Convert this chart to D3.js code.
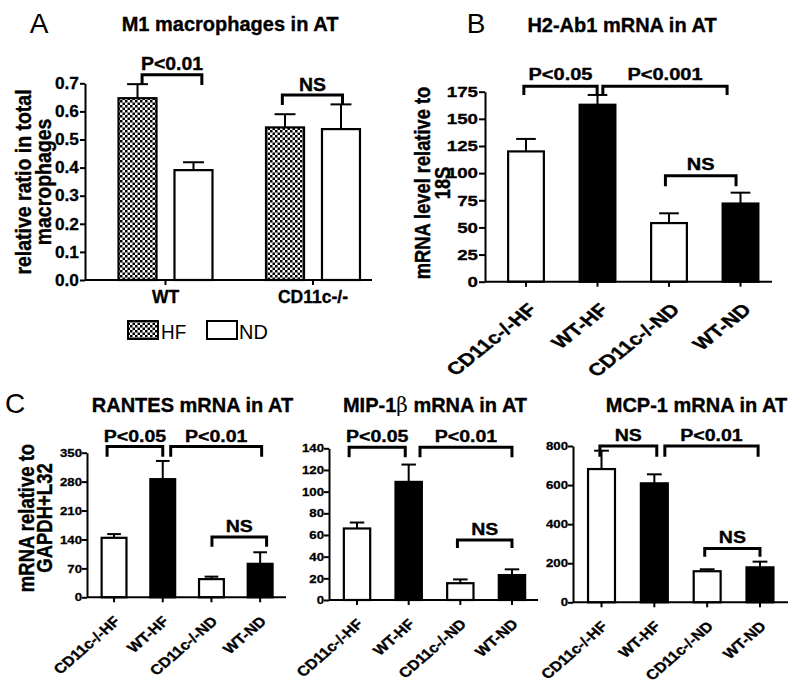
<!DOCTYPE html>
<html><head><meta charset="utf-8">
<script src="https://cdn.jsdelivr.net/npm/d3@7"></script>
<style>
body{margin:0;background:#fff;}
</style></head><body>
<svg id="chart" width="800" height="682" xmlns="http://www.w3.org/2000/svg"></svg>
<script>
// ---------------- DATA ----------------
// Panel A
const groupsA = ["WT", "CD11c-/-"];
const dietsA = ["HF", "ND"];
const m1HF = [0.647, 0.543];
const m1HFErr = [0.050, 0.047];
const m1ND = [0.391, 0.537];
const m1NDErr = [0.028, 0.088];
const ticksA = [0, 0.1, 0.2, 0.3, 0.4, 0.5, 0.6, 0.7];
// bar index: 0 WT-HF, 1 WT-ND, 2 CD11c-HF, 3 CD11c-ND ; offsets in bar widths
const bracketsA = [
  {label: "P<0.01", from: [0, 0.12], to: [1, 0.22], top: 0.730, drop: 0.694},
  {label: "NS", from: [2, -0.07], to: [3, 0.04], top: 0.658, drop: 0.623}
];

// Panels B, C
const categories = ["CD11c-/-HF", "WT-HF", "CD11c-/-ND", "WT-ND"];
const barFill = ["white", "black", "white", "black"];

const h2ab1 = [120, 163, 54, 72];
const h2ab1Err = [11.5, 9, 9, 10];
const ticksH2 = [0, 25, 50, 75, 100, 125, 150, 175];
const bracketsH2 = [
  {label: "P<0.05", from: [0, -0.06], to: [1, -0.01], top: 180, drop: 172},
  {label: "P<0.001", from: [1, 0.15], to: [3, -0.375], top: 180, drop: 172},
  {label: "NS", from: [2, -0.1], to: [3, -0.125], top: 97.5, drop: 88}
];

const rantes = [144, 286, 44, 81];
const rantesErr = [9, 44, 6, 28];
const ticksRantes = [0, 70, 140, 210, 280, 350];
const bracketsRantes = [
  {label: "P<0.05", from: [0, -0.28], to: [1, 0], top: 365, drop: 340},
  {label: "P<0.01", from: [1, 0.32], to: [3, 0.06], top: 365, drop: 340},
  {label: "NS", from: [2, 0.02], to: [3, 0.26], top: 146, drop: 122.5}
];

const mip1b = [66, 109, 15.5, 23];
const mip1bErr = [5.5, 16, 3.5, 5.3];
const ticksMip = [0, 20, 40, 60, 80, 100, 120, 140];
const bracketsMip = [
  {label: "P<0.05", from: [0, -0.3], to: [1, -0.13], top: 141, drop: 131.7},
  {label: "P<0.01", from: [1, 0.43], to: [3, 0], top: 141, drop: 131.7},
  {label: "NS", from: [2, -0.11], to: [3, 0], top: 55.4, drop: 48}
];

const mcp1 = [682, 609, 159, 179];
const mcp1Err = [94, 46, 10, 29];
const ticksMcp = [0, 200, 400, 600, 800];
const bracketsMcp = [
  {label: "NS", from: [0, -0.06], to: [1, 0.09], top: 800, drop: 745},
  {label: "P<0.01", from: [1, 0.39], to: [3, -0.07], top: 800, drop: 745},
  {label: "NS", from: [2, -0.09], to: [3, 0], top: 276, drop: 233}
];

// ---------------- DRAWING ----------------
const FONT = '"Liberation Sans", Arial, Helvetica, sans-serif';
const svg = d3.select("#chart");
svg.append("rect").attr("width", 800).attr("height", 682).attr("fill", "white");

const defs = svg.append("defs");
const pat = defs.append("pattern").attr("id", "checker").attr("patternUnits", "userSpaceOnUse")
  .attr("width", 5).attr("height", 5);
pat.append("rect").attr("width", 5).attr("height", 5).attr("fill", "white");
pat.append("rect").attr("width", 2.5).attr("height", 2.5).attr("fill", "black");
pat.append("rect").attr("x", 2.5).attr("y", 2.5).attr("width", 2.5).attr("height", 2.5).attr("fill", "black");

function stext(g, x, y, str, o) {
  const sx = o.sx || 1, rot = o.rot || 0;
  const w = o.weight || "bold";
  return g.append("text")
    .attr("transform", `translate(${x},${y}) scale(${sx},1)` + (rot ? ` rotate(${rot})` : ""))
    .attr("text-anchor", o.anchor || "middle")
    .attr("font-size", o.size)
    .attr("font-weight", w)
    .attr("font-family", FONT)
    .attr("fill", "black")
    .attr("stroke", w === "bold" ? "black" : "none")
    .attr("stroke-width", 0.35)
    .text(str);
}

function yAxis(g, x, y, ticks, fmt, size, sx, tickSize, pad) {
  const ax = d3.axisLeft(y).tickValues(ticks).tickFormat(fmt).tickSize(tickSize).tickSizeOuter(0).tickPadding(pad);
  const ga = g.append("g").attr("transform", `translate(${x},0)`).call(ax);
  ga.select(".domain").attr("stroke-width", 2).attr("stroke", "black");
  ga.selectAll(".tick line").attr("stroke-width", 2).attr("stroke", "black");
  ga.selectAll(".tick text")
    .attr("x", null)
    .attr("transform", `translate(${-(tickSize + pad)},0) scale(${sx},1)`)
    .attr("font-size", size).attr("font-weight", "bold").attr("font-family", FONT).attr("fill", "black")
    .attr("stroke", "black").attr("stroke-width", 0.3);
  return ga;
}

function drawBrackets(g, brackets, centerOf, bw, y, size, sx, gap) {
  brackets.forEach(b => {
    const x1 = centerOf(b.from[0]) + b.from[1] * bw;
    const x2 = centerOf(b.to[0]) + b.to[1] * bw;
    g.append("path")
      .attr("d", `M${x1},${y(b.drop)}V${y(b.top)}H${x2}V${y(b.drop)}`)
      .attr("fill", "none").attr("stroke", "black").attr("stroke-width", 3)
      .attr("stroke-linejoin", "miter");
    stext(g, (x1 + x2) / 2, y(b.top) - gap, b.label, {size: size, sx: sx});
  });
}

function errBars(g, bars, y, capW) {
  bars.forEach(d => {
    g.append("line").attr("x1", d.cx).attr("x2", d.cx).attr("y1", y(d.v)).attr("y2", y(d.v + d.e))
      .attr("stroke", "black").attr("stroke-width", 2);
    g.append("line").attr("x1", d.cx - capW / 2).attr("x2", d.cx + capW / 2).attr("y1", y(d.v + d.e)).attr("y2", y(d.v + d.e))
      .attr("stroke", "black").attr("stroke-width", 2);
  });
}

// ---------- Panel A ----------
{
  const g = svg.append("g");
  const y = d3.scaleLinear().domain([0, 0.7]).range([280, 83.3]);
  const x0 = d3.scaleBand().domain(groupsA).range([91.75, 386.75]).padding(0);
  const x1 = d3.scaleBand().domain(dietsA).range([0, x0.bandwidth()]).paddingInner(0.321).paddingOuter(0.478);
  const bw = x1.bandwidth();
  const bars = [];
  groupsA.forEach((gr, i) => {
    bars.push({g: gr, d: "HF", v: m1HF[i], e: m1HFErr[i]});
    bars.push({g: gr, d: "ND", v: m1ND[i], e: m1NDErr[i]});
  });
  bars.forEach(b => { b.x = x0(b.g) + x1(b.d); b.cx = b.x + bw / 2; });
  errBars(g, bars, y, bw * 0.55);
  g.selectAll("rect.bar").data(bars).join("rect").attr("class", "bar")
    .attr("x", d => d.x).attr("y", d => y(d.v)).attr("width", bw).attr("height", d => y(0) - y(d.v))
    .attr("fill", d => d.d === "HF" ? "url(#checker)" : "white")
    .attr("stroke", "black").attr("stroke-width", 2.2);
  yAxis(g, 85, y, ticksA, d3.format(".1f"), 16.5, 1.05, 5, 1);
  g.append("line").attr("x1", 85).attr("x2", 372).attr("y1", y(0)).attr("y2", y(0)).attr("stroke", "black").attr("stroke-width", 2);
  groupsA.forEach(gr => {
    const cx = x0(gr) + x0.bandwidth() / 2;
    g.append("line").attr("x1", cx).attr("x2", cx).attr("y1", y(0)).attr("y2", y(0) + 5).attr("stroke", "black").attr("stroke-width", 2);
    stext(g, cx, 302.5, gr, {size: 17.5});
  });
  drawBrackets(g, bracketsA, i => bars[i].cx, bw, y, 18.5, 1.05, 4.5);
  stext(g, 230, 31, "M1 macrophages in AT", {size: 20});
  stext(g, 39, 33, "A", {size: 28, weight: "normal"});
  stext(g, 31, 182, "relative ratio in total", {size: 19.5, rot: -90, sx: 1.15});
  stext(g, 51, 182, "macrophages", {size: 19.5, rot: -90, sx: 1.15});
  // legend
  g.append("rect").attr("x", 128).attr("y", 321).attr("width", 30).attr("height", 18)
    .attr("fill", "url(#checker)").attr("stroke", "black").attr("stroke-width", 2);
  stext(g, 161, 339, "HF", {size: 21, weight: "normal", anchor: "start", sx: 0.9});
  g.append("rect").attr("x", 207).attr("y", 321).attr("width", 30).attr("height", 18)
    .attr("fill", "white").attr("stroke", "black").attr("stroke-width", 2);
  stext(g, 239, 339, "ND", {size: 21, weight: "normal", anchor: "start", sx: 0.95});
}

// ---------- Generic panel for B & C ----------
function catPanel(o) {
  const g = svg.append("g");
  const y = d3.scaleLinear().domain([0, o.ticks[o.ticks.length - 1]]).range(o.yRange);
  const x = d3.scaleBand().domain(categories).range(o.bandRange).paddingInner(o.pad).paddingOuter(o.pad / 2);
  const bw = x.bandwidth();
  const bars = categories.map((c, i) => ({c, v: o.values[i], e: o.errs[i], fill: barFill[i], x: x(c), cx: x(c) + bw / 2}));
  errBars(g, bars, y, bw * 0.55);
  g.selectAll("rect.bar").data(bars).join("rect").attr("class", "bar")
    .attr("x", d => d.x).attr("y", d => y(d.v)).attr("width", bw).attr("height", d => y(0) - y(d.v))
    .attr("fill", d => d.fill).attr("stroke", "black").attr("stroke-width", 2.2);
  yAxis(g, o.axisX[0], y, o.ticks, d3.format("d"), o.tickSize, o.sx, o.tickLen, o.tickPad);
  g.append("line").attr("x1", o.axisX[0]).attr("x2", o.axisX[1]).attr("y1", y(0)).attr("y2", y(0)).attr("stroke", "black").attr("stroke-width", 2);
  bars.forEach(b => {
    g.append("line").attr("x1", b.cx).attr("x2", b.cx).attr("y1", y(0)).attr("y2", y(0) + 5).attr("stroke", "black").attr("stroke-width", 2);
    stext(g, b.cx + o.xlab[0], y(0) + o.xlab[1], b.c, {size: o.xlabSize, anchor: "end", sx: o.sx, rot: -45});
  });
  drawBrackets(g, o.brackets, i => bars[i].cx, bw, y, o.pSize, o.sx, o.pGap);
  stext(g, o.title[0], o.title[1], o.title[2], {size: 20});
  o.ylab.forEach(l => stext(g, l[0], l[1], l[2], {size: o.ylabSize, rot: -90, sx: o.sx}));
  return g;
}

// Panel B
catPanel({
  values: h2ab1, errs: h2ab1Err, ticks: ticksH2, brackets: bracketsH2,
  yRange: [281.7, 91.7], bandRange: [490.25, 776.25], pad: 0.5, axisX: [485, 772],
  sx: 1.25, tickSize: 15, tickLen: 6, tickPad: 1, xlab: [12, 29], xlabSize: 17.5,
  pSize: 16, pGap: 6, title: [622, 31.5, "H2-Ab1 mRNA in AT"],
  ylab: [[430, 183, "mRNA level relative to"], [449.5, 183, "18S"]], ylabSize: 18.3
});
stext(svg, 476, 33, "B", {size: 28, weight: "normal"});

// Panel C1
catPanel({
  values: rantes, errs: rantesErr, ticks: ticksRantes, brackets: bracketsRantes,
  yRange: [597.3, 452.7], bandRange: [89.7, 284.5], pad: 0.49, axisX: [87, 286],
  sx: 1.15, tickSize: 11.5, tickLen: 5, tickPad: 0, xlab: [7, 25], xlabSize: 14,
  pSize: 17, pGap: 5, title: [192.5, 411.7, "RANTES mRNA in AT"],
  ylab: [[34, 518, "mRNA relative to"], [52, 518, "GAPDH+L32"]], ylabSize: 18.5
});
stext(svg, 15, 413, "C", {size: 28, weight: "normal"});

// Panel C2
const gC2 = catPanel({
  values: mip1b, errs: mip1bErr, ticks: ticksMip, brackets: bracketsMip,
  yRange: [600, 448.3], bandRange: [331.2, 537.8], pad: 0.49, axisX: [329, 538],
  sx: 1.15, tickSize: 11.5, tickLen: 5, tickPad: 0, xlab: [7, 25], xlabSize: 14,
  pSize: 17, pGap: 5, title: [-1000, -1000, ""], ylab: [], ylabSize: 18
});
{
  const t = stext(gC2, 435, 411.7, "MIP-1", {size: 20});
  t.append("tspan").attr("font-weight", "normal").attr("stroke", "none").attr("font-family", '"DejaVu Serif", serif').text("β");
  t.append("tspan").text(" mRNA in AT");
}

// Panel C3
catPanel({
  values: mcp1, errs: mcp1Err, ticks: ticksMcp, brackets: bracketsMcp,
  yRange: [602.3, 446], bandRange: [575.1, 786.4], pad: 0.49, axisX: [573, 788],
  sx: 1.15, tickSize: 11.5, tickLen: 5, tickPad: 0, xlab: [7, 25], xlabSize: 14,
  pSize: 17, pGap: 5, title: [696.5, 411.7, "MCP-1 mRNA in AT"], ylab: [], ylabSize: 18
});
</script>
</body></html>
